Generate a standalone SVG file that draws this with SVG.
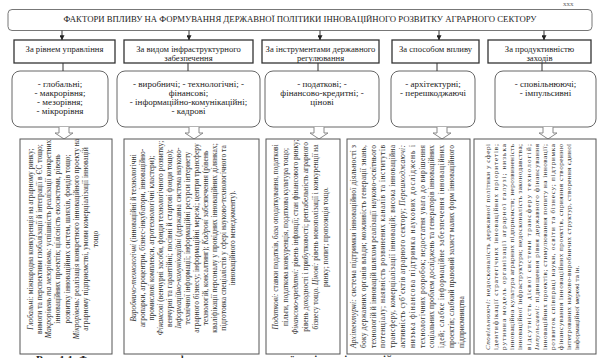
<svg xmlns="http://www.w3.org/2000/svg" width="603" height="358" viewBox="0 0 603 358">
  <defs>
    <marker id="tip" viewBox="0 0 8 8" refX="7.5" refY="4" markerWidth="5" markerHeight="5" orient="auto" markerUnits="userSpaceOnUse">
      <path d="M0,0 L8,4 L0,8 Z" fill="#222"/>
    </marker>
    <style>
      text { font-family: "Liberation Serif", "Times New Roman", serif; fill: #222; }
      .title { font-size: 8.6px; }
      .cat { font-size: 8.6px; text-anchor: middle; }
      .grp { font-size: 9px; text-anchor: middle; }
      .d { font-size: 7.5px; fill: #333; }
      .s { font-size: 7.1px; }
      .m { font-size: 7.35px; }
      .dc { text-anchor: middle; }
      .i { font-style: italic; }
      .frame-title { fill: #fff; stroke: #777; stroke-width: 1; }
      .frame-cat { fill: #fff; stroke: #333; stroke-width: 1.3; }
      .frame-grp { fill: #fff; stroke: #666; stroke-width: 1; }
      .frame-desc { fill: #fff; stroke: #555; stroke-width: 1; }
      .link { stroke: #333; stroke-width: 1; fill: none; }
      .block { fill: #fff; stroke: #888; stroke-width: 1; }
      .caption { font-size: 11px; font-weight: bold; fill: #222; }
    </style>
  </defs>

  <rect x="0" y="0" width="603" height="358" fill="#fff"/>

  <text x="563" y="5.5" style="font-size:7px;fill:#666">ххх</text>

  <!-- heading -->
  <g id="title">
    <rect class="frame-title" x="8" y="9.5" width="584" height="21" rx="4"/>
    <text class="title" x="300" y="21.5" text-anchor="middle" textLength="473" lengthAdjust="spacingAndGlyphs">ФАКТОРИ ВПЛИВУ НА ФОРМУВАННЯ ДЕРЖАВНОЇ ПОЛІТИКИ ІННОВАЦІЙНОГО РОЗВИТКУ АГРАРНОГО СЕКТОРУ</text>
  </g>

  <!-- classification criteria -->
  <g id="cat-1">
    <rect class="frame-cat" x="14" y="40" width="101" height="23"/>
    <text class="cat" x="64.5" y="51.5">За рівнем управління</text>
  </g>
  <g id="cat-2">
    <rect class="frame-cat" x="124" y="40" width="129" height="23"/>
    <text class="cat" x="188.5" y="51.5">За видом інфраструктурного</text>
    <text class="cat" x="188.5" y="60.5">забезпечення</text>
  </g>
  <g id="cat-3">
    <rect class="frame-cat" x="262" y="40" width="117" height="23"/>
    <text class="cat" x="320.5" y="51.5">За інструментами державного</text>
    <text class="cat" x="320.5" y="60.5">регулювання</text>
  </g>
  <g id="cat-4">
    <rect class="frame-cat" x="392" y="40" width="87" height="23"/>
    <text class="cat" x="435.5" y="51.5">За способом впливу</text>
  </g>
  <g id="cat-5">
    <rect class="frame-cat" x="488" y="40" width="103" height="23"/>
    <text class="cat" x="539.5" y="51.5">За продуктивністю</text>
    <text class="cat" x="539.5" y="60.5">заходів</text>
  </g>

  <!-- factor groups -->
  <g id="grp-1">
    <rect class="frame-grp" x="12" y="71" width="96" height="56" rx="8"/>
    <text class="grp" x="60" y="87">- глобальні;</text>
    <text class="grp" x="60" y="96">- макрорівня;</text>
    <text class="grp" x="60" y="105">- мезорівня;</text>
    <text class="grp" x="60" y="114">- мікрорівня</text>
  </g>
  <g id="grp-2">
    <rect class="frame-grp" x="117" y="71" width="143" height="56" rx="8"/>
    <text class="grp" x="188.5" y="87">- виробничі; - технологічні; -</text>
    <text class="grp" x="188.5" y="96">фінансові;</text>
    <text class="grp" x="188.5" y="105">- інформаційно-комунікаційні;</text>
    <text class="grp" x="188.5" y="114">- кадрові</text>
  </g>
  <g id="grp-3">
    <rect class="frame-grp" x="265" y="71" width="114" height="56" rx="8"/>
    <text class="grp" x="322" y="87">- податкові; -</text>
    <text class="grp" x="322" y="96">фінансово-кредитні; -</text>
    <text class="grp" x="322" y="105">цінові</text>
  </g>
  <g id="grp-4">
    <rect class="frame-grp" x="391" y="71" width="84" height="56" rx="8"/>
    <text class="grp" x="433" y="87">- архітектурні;</text>
    <text class="grp" x="433" y="96">- перешкоджаючі</text>
  </g>
  <g id="grp-5">
    <rect class="frame-grp" x="495" y="71" width="101" height="56" rx="8"/>
    <text class="grp" x="545.5" y="87">- сповільнюючі;</text>
    <text class="grp" x="545.5" y="96">- імпульсивні</text>
  </g>

  <!-- connectors -->
  <g id="connectors">
    <line class="link" x1="62" y1="30.5" x2="62" y2="40" marker-end="url(#tip)"/>
    <line class="link" x1="189" y1="30.5" x2="189" y2="40" marker-end="url(#tip)"/>
    <line class="link" x1="320" y1="30.5" x2="320" y2="40" marker-end="url(#tip)"/>
    <line class="link" x1="439" y1="30.5" x2="439" y2="40" marker-end="url(#tip)"/>
    <line class="link" x1="544" y1="30.5" x2="544" y2="40" marker-end="url(#tip)"/>

    <line class="link" x1="63" y1="63" x2="63" y2="71"/>
    <line class="link" x1="188" y1="63" x2="188" y2="71"/>
    <line class="link" x1="318" y1="63" x2="318" y2="71"/>
    <line class="link" x1="437" y1="63" x2="437" y2="71"/>
    <line class="link" x1="542" y1="63" x2="542" y2="71"/>

    <path class="block" d="M59,127 V133 H55 L64,139 L73,133 H69 V127"/>
    <path class="block" d="M189,127 V133 H185 L194,139 L203,133 H199 V127"/>
    <path class="block" d="M314,127 V133 H310 L319,139 L328,133 H324 V127"/>
    <path class="block" d="M437,127 V133 H433 L442,139 L451,133 H447 V127"/>
    <path class="block" d="M543,127 V133 H539 L548,139 L557,133 H553 V127"/>
  </g>

  <!-- descriptions (vertical text, read bottom to top) -->
  <g id="desc-1">
    <rect class="frame-desc" x="20" y="139" width="92" height="215"/>
    <g transform="rotate(-90)">
      <text class="d dc" x="-239" y="32.5"><tspan class="i">Глобальні:</tspan> міжнародна конкуренція на аграрному ринку;</text>
      <text class="d dc" x="-239" y="41.8">вимоги та перспективи глобалізації й інтеграції в ЄС тощо;</text>
      <text class="d dc" x="-239" y="51.1"><tspan class="i">Макрорівень та мезорівень:</tspan> успішність реалізації конкретних</text>
      <text class="d dc" x="-239" y="60.4">інноваційних проектів; цілісність екосистеми, рівень</text>
      <text class="d dc" x="-239" y="69.7">розвитку інноваційних систем, шляхів, фондів тощо;</text>
      <text class="d dc" x="-239" y="79"><tspan class="i">Мікрорівень:</tspan> реалізація конкретного інноваційного проекту на</text>
      <text class="d dc" x="-239" y="88.3">аграрному підприємстві, умови комерціалізації інновацій</text>
      <text class="d dc" x="-239" y="97.6">тощо</text>
    </g>
  </g>

  <g id="desc-2">
    <rect class="frame-desc" x="124" y="139" width="135" height="215"/>
    <g transform="rotate(-90)">
      <text class="d dc" x="-238" y="135.5"><tspan class="i">Виробничо-технологічні</tspan> (інноваційні й технологічні</text>
      <text class="d dc" x="-238" y="144.5">агропарки, агроцентри, бізнес-інкубатори, інноваційно-</text>
      <text class="d dc" x="-238" y="153.5">промислові комплекси, агротехнологічні кластери);</text>
      <text class="d dc" x="-238" y="162.5"><tspan class="i">Фінансові</tspan> (венчурні засоби, фонди технологічного розвитку;</text>
      <text class="d dc" x="-238" y="171.5">венчурні та гарантійні; посівні й стартові фонди тощо);</text>
      <text class="d dc" x="-238" y="180.5"><tspan class="i">Інформаційно-комунікаційні</tspan> (державна система науково-</text>
      <text class="d dc" x="-238" y="189.5">технічної інформації; інформаційні ресурси інтернету</text>
      <text class="d dc" x="-238" y="198.5">аграрного бізнесу; інформаційні мережі; центри трансферу</text>
      <text class="d dc" x="-238" y="207.5">технологій, консалтинг); <tspan class="i">Кадрові</tspan> забезпечення (рівень</text>
      <text class="d dc" x="-238" y="216.5">кваліфікації персоналу у провідних інноваційних ділянках;</text>
      <text class="d dc" x="-238" y="225.5">підготовка спеціалістів у сфері науково-технологічного та</text>
      <text class="d dc" x="-238" y="234.5">інноваційного менеджменту).</text>
    </g>
  </g>

  <g id="desc-3">
    <rect class="frame-desc" x="266" y="139" width="74" height="215"/>
    <g transform="rotate(-90)">
      <text class="d dc m" x="-237" y="277.5"><tspan class="i">Податкові:</tspan> ставки податків, база оподаткування, податкові</text>
      <text class="d dc m" x="-237" y="287.5">пільги, податкова конкуренція, податкова культура тощо;</text>
      <text class="d dc m" x="-237" y="297.5"><tspan class="i">Фінансово-кредитні:</tspan> рівень інфляції; стан фінансового ринку;</text>
      <text class="d dc m" x="-237" y="307.5">рівень доходності і прибутковості; рентабельність аграрного</text>
      <text class="d dc m" x="-237" y="317.5">бізнесу тощо. <tspan class="i">Цінові:</tspan> рівень монополізації і конкуренції на</text>
      <text class="d dc m" x="-237" y="327.5">ринку; попит; пропозиція тощо.</text>
    </g>
  </g>

  <g id="desc-4">
    <rect class="frame-desc" x="347" y="139" width="123" height="215"/>
    <g transform="rotate(-90)">
      <text class="d" x="-348" y="356" textLength="203" lengthAdjust="spacing"><tspan class="i">Архітектурні:</tspan> система підтримки інноваційної діяльності з</text>
      <text class="d" x="-348" y="365.8" textLength="203" lengthAdjust="spacing">боку державних органів влади; можливість генерації знань,</text>
      <text class="d" x="-348" y="375.6" textLength="203" lengthAdjust="spacing">технологій й інновацій шляхом реалізації науково-освітнього</text>
      <text class="d" x="-348" y="385.4" textLength="203" lengthAdjust="spacing">потенціалу; наявність розвинених каналів та інститутів</text>
      <text class="d" x="-348" y="395.2" textLength="203" lengthAdjust="spacing">трансферу, комерціалізації інновацій; висока інноваційна</text>
      <text class="d" x="-348" y="405" textLength="203" lengthAdjust="spacing">активність суб’єктів аграрного сектору; <tspan class="i">Перешкоджаючі:</tspan></text>
      <text class="d" x="-348" y="414.8" textLength="203" lengthAdjust="spacing">низька фінансова підтримка наукових досліджень і</text>
      <text class="d" x="-348" y="424.6" textLength="203" lengthAdjust="spacing">технологічних розробок; недостатня увага до вирішення</text>
      <text class="d" x="-348" y="434.4" textLength="203" lengthAdjust="spacing">соціальних проблем досліджень та генераторів інноваційних</text>
      <text class="d" x="-348" y="444.2" textLength="203" lengthAdjust="spacing">ідей; слабке інформаційне забезпечення інноваційних</text>
      <text class="d" x="-348" y="454" textLength="203" lengthAdjust="spacing">проектів; слабкий правовий захист малих форм інноваційного</text>
      <text class="d" x="-348" y="463.8">підприємництва</text>
    </g>
  </g>

  <g id="desc-5">
    <rect class="frame-desc" x="474" y="139" width="122" height="215"/>
    <g transform="rotate(-90)">
      <text class="d s" x="-350" y="490" textLength="206" lengthAdjust="spacing"><tspan class="i">Сповільнюючі:</tspan> недосконалість державної політики у сфері</text>
      <text class="d s" x="-350" y="498.1" textLength="206" lengthAdjust="spacing">ідентифікації стратегічних інноваційних пріоритетів;</text>
      <text class="d s" x="-350" y="506.2" textLength="206" lengthAdjust="spacing">рутинна модель організації аграрної галузі; низька</text>
      <text class="d s" x="-350" y="514.3" textLength="206" lengthAdjust="spacing">інноваційна культура аграрних підприємств; нерозвиненість</text>
      <text class="d s" x="-350" y="522.4" textLength="206" lengthAdjust="spacing">інноваційної інфраструктури; недосконалість законодавства;</text>
      <text class="d s" x="-350" y="530.5" textLength="206" lengthAdjust="spacing">відсутність дієвої системи трансферу технологій;</text>
      <text class="d s" x="-350" y="538.6" textLength="206" lengthAdjust="spacing"><tspan class="i">Імпульсивні:</tspan> підвищення рівня державного фінансування</text>
      <text class="d s" x="-350" y="546.7" textLength="206" lengthAdjust="spacing">інноваційних проектів; стимулювання попиту на інновації;</text>
      <text class="d s" x="-350" y="554.8" textLength="206" lengthAdjust="spacing">розвиток співпраці науки, освіти та бізнесу; підтримка</text>
      <text class="d s" x="-350" y="562.9" textLength="206" lengthAdjust="spacing">фінансування інноваційних проектів, сприяння створенню</text>
      <text class="d s" x="-350" y="571" textLength="206" lengthAdjust="spacing">інтегрованих науково-виробничих структур, створення єдиної</text>
      <text class="d s" x="-350" y="579.1">інформаційної мережі та ін.</text>
    </g>
  </g>

  <text class="caption" x="36" y="362.5" textLength="520" lengthAdjust="spacingAndGlyphs">Рис. 1.1. Фактори впливу на формування державної політики інноваційного розвитку аграрного сектору</text>
</svg>
